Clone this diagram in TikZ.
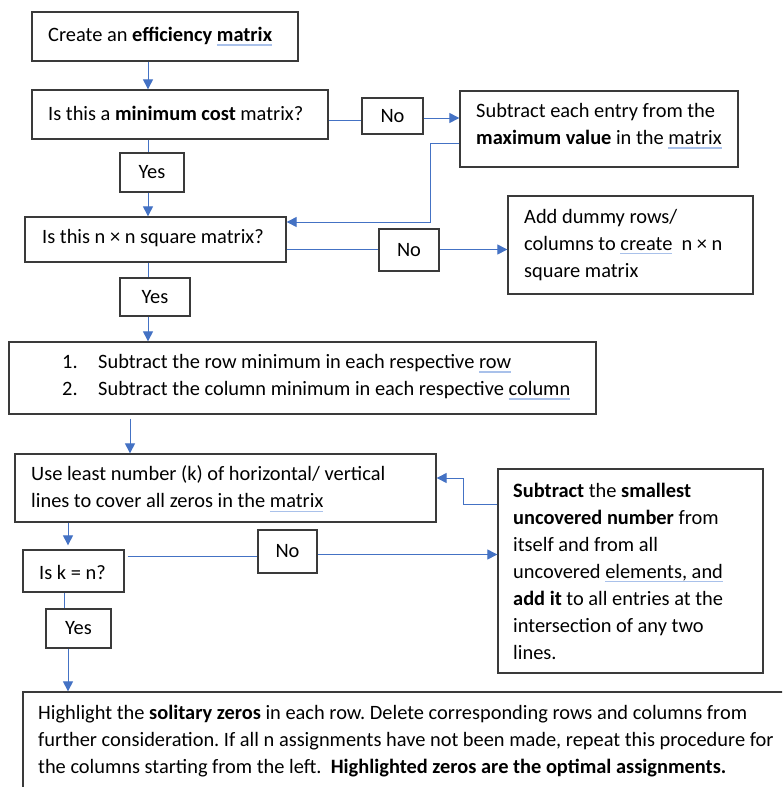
\documentclass[tikz,border=0pt]{standalone}
\usepackage{fontspec}
\setmainfont{Carlito}
\usetikzlibrary{arrows.meta}
\definecolor{lineblue}{HTML}{4472C4}
\definecolor{sqblue}{HTML}{A9C1EA}
\definecolor{boxgray}{HTML}{3A3A3A}
\frenchspacing
\newcommand\sq[1]{{\setbox0\hbox{#1}\rlap{\color{sqblue}\rule[-4pt]{\wd0}{1.3pt}}\box0}}
\tikzset{
  box/.style={draw=boxgray, line width=1.3pt, rectangle, inner sep=0pt},
  txt/.style={anchor=west, align=left, inner sep=0pt, font=\fontsize{20.4}{27}\selectfont\frenchspacing},
  lbl/.style={box, font=\fontsize{20.4}{27}\selectfont},
  conn/.style={draw=lineblue, line width=1pt},
  arr/.style={conn, -{Triangle[length=10pt,width=10pt]}}
}
\begin{document}
\begin{tikzpicture}[x=1pt,y=-1pt]
\useasboundingbox (0,0) rectangle (782,787);
\clip (0,0) rectangle (782,787);
\fill[white] (0,0) rectangle (782,787);
% boxes
\node[box, minimum width=266pt, minimum height=49pt] (b1) at (165,36.5) {};
\node[txt] (b1t) at (48,36.5) {Create an \textbf{efficiency \sq{matrix}}};
\node[box, minimum width=296pt, minimum height=49pt] (b2) at (180,114.5) {};
\node[txt] (b2t) at (48,113) {Is this a \textbf{minimum cost} matrix?};
\node[lbl, minimum width=61pt, minimum height=36pt] (nob1) at (392.5,116) {No};
\node[box, minimum width=278pt, minimum height=76pt] (b3) at (599,129) {};
\node[txt] (b3t) at (476,126) {Subtract each entry from the\\\textbf{maximum value} in the \sq{matrix}};
\node[lbl, minimum width=64pt, minimum height=39pt] (yes1) at (152,172.5) {Yes};
\node[box, minimum width=261pt, minimum height=45pt] (b4) at (155.5,239.5) {};
\node[txt] (b4t) at (42,238) {Is this n × n square matrix?};
\node[lbl, minimum width=60pt, minimum height=42pt] (nob2) at (409,250) {No};
\node[box, minimum width=245pt, minimum height=98pt] (b5) at (630.5,245) {};
\node[txt] (b5t) at (524,245) {Add dummy rows/\\columns to \sq{create}\ \ n × n\\square matrix};
\node[lbl, minimum width=70pt, minimum height=38pt] (yes2) at (155,297) {Yes};
\node[box, minimum width=587pt, minimum height=72pt] (b6) at (302.5,378) {};
\node[txt] (b6t) at (62,377) {\makebox[36pt][l]{1.}Subtract the row minimum in each respective \sq{row}\\\makebox[36pt][l]{2.}Subtract the column minimum in each respective \sq{column}};
\node[box, minimum width=421pt, minimum height=68pt] (b7) at (225.5,488) {};
\node[txt] (b7t) at (31,489) {Use least number (k) of horizontal/ vertical\\lines to cover all zeros in the \sq{matrix}};
\node[box, minimum width=101pt, minimum height=42pt] (b8) at (73.5,571) {};
\node[txt] (b8t) at (39,572) {Is k = n?};
\node[lbl, minimum width=59pt, minimum height=43pt] (nob3) at (287.5,551.5) {No};
\node[box, minimum width=265pt, minimum height=204pt] (b9) at (630.5,571) {};
\node[txt] (b9t) at (513,571) {\textbf{Subtract} the \textbf{smallest}\\\textbf{uncovered number} from\\itself and from all\\uncovered \sq{elements, and}\\\textbf{add it} to all entries at the\\intersection of any two\\lines.};
\node[lbl, minimum width=65pt, minimum height=39pt] (yes3) at (78.5,628.5) {Yes};
\node[box, minimum width=777pt, minimum height=128pt] (b10) at (411.5,756) {};
\node[txt] (b10t) at (38,741.5) {Highlight the \textbf{solitary zeros} in each row. Delete corresponding rows and columns from\\further consideration. If all n assignments have not been made, repeat this procedure for\\the columns starting from the left.\ \ \textbf{Highlighted zeros are the optimal assignments.}};
% helper coordinates
\coordinate (xa) at (148,0);
\coordinate (xb) at (130,0);
\coordinate (xc) at (68,0);
\coordinate (xd) at (64,0);
\coordinate (ya) at (0,120);
\coordinate (yb) at (0,118);
\coordinate (yc) at (0,143);
\coordinate (yd) at (430,222);
\coordinate (ye) at (0,249.5);
\coordinate (yf) at (0,556);
\coordinate (yg) at (0,554.5);
\coordinate (yh) at (0,504);
\coordinate (yj) at (463,478);
% connectors
\draw[arr] (b1.south -| xa) -- (b2.north -| xa);
\draw[conn] (b2.south -| xa) -- (yes1.north -| xa);
\draw[arr] (yes1.south -| xa) -- (b4.north -| xa);
\draw[conn] (b4.south -| xa) -- (yes2.north -| xa);
\draw[arr] (yes2.south -| xa) -- (b6.north -| xa);
\draw[conn] (b2.east |- ya) -- (nob1.west |- ya);
\draw[arr] (nob1.east |- yb) -- (b3.west |- yb);
\draw[arr] (b3.west |- yc) -| (yd) -- (b4.east |- yd);
\draw[conn] (b4.east |- ye) -- (nob2.west |- ye);
\draw[arr] (nob2.east |- ye) -- (b5.west |- ye);
\draw[arr, shorten <=4pt] (b6.south -| xb) -- (b7.north -| xb);
\draw[arr, shorten >=4pt] (b7.south -| xc) -- (b8.north -| xc);
\draw[conn, shorten <=3pt] (b8.east |- yf) -- (nob3.west |- yf);
\draw[arr] (nob3.east |- yg) -- (b9.west |- yg);
\draw[arr] (b9.west |- yh) -| (yj) -- (b7.east |- yj);
\draw[conn] (b8.south -| xd) -- (yes3.north -| xd);
\draw[arr] (yes3.south -| xc) -- (b10.north -| xc);
\end{tikzpicture}
\end{document}
